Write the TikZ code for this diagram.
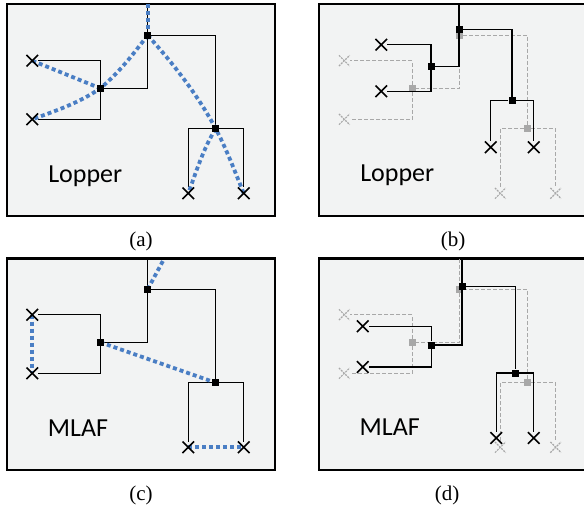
\documentclass[tikz,border=0pt]{standalone}
\usepackage{fontspec}
\newfontfamily\labfont{Carlito}
\newfontfamily\capfont{Liberation Serif}
\usetikzlibrary{shapes.misc}
\pgfdeclarelayer{bg}\pgfdeclarelayer{glines}\pgfdeclarelayer{gnodes}\pgfdeclarelayer{blines}\pgfdeclarelayer{bnodes}
\pgfsetlayers{bg,glines,gnodes,blines,bnodes,main}
\definecolor{panelbg}{RGB}{242,243,243}
\definecolor{dotblue}{RGB}{74,126,196}
\definecolor{ghost}{RGB}{168,168,168}
\tikzset{
 panel/.style={draw=black, line width=2.4pt, fill=panelbg},
 bline/.style={draw=black, line width=1.3pt},
 gline/.style={draw=ghost, line width=1.2pt, dash pattern=on 4pt off 2pt},
 bsq/.style={rectangle, fill=black, inner sep=0pt, minimum size=7pt},
 gsq/.style={rectangle, fill=ghost, inner sep=0pt, minimum size=7pt},
 bx/.style={cross out, draw=black, line width=1.6pt, inner sep=0pt, minimum size=10pt},
 gx/.style={cross out, draw=ghost, line width=1.2pt, dash pattern=on 2pt off 1pt, inner sep=0pt, minimum size=9.5pt},
 route/.style={draw=dotblue, line width=3.8pt, dash pattern=on 4pt off 3pt},
 lab/.style={font=\labfont\fontsize{26}{30}\selectfont, text=black, anchor=base},
 capt/.style={font=\capfont\fontsize{21}{25}\selectfont},
 blacktree/.style={tsq/.style=bsq, tx/.style=bx, tln/.style=bline},
 ghosttree/.style={tsq/.style=gsq, tx/.style=gx, tln/.style=gline},
}
% #1 T, #2 L, #3 R, #4 X1, #5 X2, #6 X3, #7 X4, #8 top end
\newcommand\buildtree[8]{%
 \begin{pgfonlayer}{\nodelayer}
 \node[tsq] (T) at (#1) {};
 \node[tsq] (L) at (#2) {};
 \node[tsq] (R) at (#3) {};
 \node[tx] (X1) at (#4) {};
 \node[tx] (X2) at (#5) {};
 \node[tx] (X3) at (#6) {};
 \node[tx] (X4) at (#7) {};
 \coordinate (Top) at (#8);
 \end{pgfonlayer}
 \begin{pgfonlayer}{\linelayer}
 \draw[tln] (Top) -- (T);
 \draw[tln] (T) -| (R);
 \draw[tln] (T) |- (L);
 \draw[tln] (L) |- (X1);
 \draw[tln] (L) |- (X2);
 \draw[tln] (R) -| (X3);
 \draw[tln] (R) -| (X4);
 \end{pgfonlayer}}
\newcommand\treeA{\buildtree{147.7,35.3}{100.3,88.3}{215.7,128.7}{32.3,60.7}{32.3,119.3}{188.3,193.3}{243.7,193.3}{147.7,4.5}}
\begin{document}
\begin{tikzpicture}[x=1pt,y=-1pt]
\useasboundingbox (0,0) rectangle (584,508);
\begin{pgfonlayer}{bg}
\path[panel] (7,4.3) rectangle (275,216);
\path[panel] (318.7,4.3) rectangle (600,216);
\path[panel] (7,258.3) rectangle (275,470);
\path[panel] (318.7,258.3) rectangle (600,470);
\end{pgfonlayer}
% (a)
\begin{scope}[name prefix=a-, blacktree]
\def\nodelayer{bnodes}\def\linelayer{blines}
\treeA
\begin{pgfonlayer}{blines}
\draw[route] (Top) -- (T.center);
\draw[route] (T.center) .. controls (132.4,55.1) and (119.5,72.2) .. (L.center) .. controls (79.8,102.6) and (55.8,110.8) .. (X2.center);
\draw[route] (X1.center) -- (L.center);
\draw[route] (T.center) .. controls (173.1,63.5) and (197.9,95.1) .. (R.center) .. controls (226.5,149) and (235.1,172) .. (X4.center);
\draw[route] (R.center) .. controls (203.5,148.2) and (196.2,171.7) .. (X3.center);
\end{pgfonlayer}
\node[lab] (la) at (85.3,182.7) {Lopper};
\node[capt] (ca) at (141,241.5) {(a)};
\end{scope}
% (b)
\begin{scope}[name prefix=bg-, shift={(312,0)}, ghosttree]
\def\nodelayer{gnodes}\def\linelayer{glines}
\treeA
\end{scope}
\begin{scope}[name prefix=b-, blacktree]
\def\nodelayer{bnodes}\def\linelayer{blines}
\buildtree{459,29.3}{431,66.7}{512,100.7}{381.3,44.7}{381.3,91.3}{490.7,147.3}{533.7,147.3}{459,4.5}
\node[lab] (lb) at (397.3,181.7) {Lopper};
\node[capt] (cb) at (453,241.5) {(b)};
\end{scope}
% (c)
\begin{scope}[name prefix=c-, shift={(0,254)}, blacktree]
\def\nodelayer{bnodes}\def\linelayer{blines}
\treeA
\coordinate (Out) at (164,5);
\begin{pgfonlayer}{blines}
\draw[route] (T.center) -- (Out);
\draw[route] (X1.center) -- (X2.center);
\draw[route] (L.center) -- (R.center);
\draw[route] (X3.center) -- (X4.center);
\end{pgfonlayer}
\node[lab] (lc) at (78,182.3) {MLAF};
\node[capt] (cc) at (141,241.5) {(c)};
\end{scope}
% (d)
\begin{scope}[name prefix=dg-, shift={(312,254)}, ghosttree]
\def\nodelayer{gnodes}\def\linelayer{glines}
\treeA
\end{scope}
\begin{scope}[name prefix=d-, blacktree]
\def\nodelayer{bnodes}\def\linelayer{blines}
\buildtree{462,286.3}{431.3,345}{515.3,373}{362.7,326.3}{362.7,367}{496.3,438}{533.7,438}{462,258.8}
\node[lab] (ld) at (389.7,435.7) {MLAF};
\node[capt] (cd) at (447,495.5) {(d)};
\end{scope}
\end{tikzpicture}
\end{document}
